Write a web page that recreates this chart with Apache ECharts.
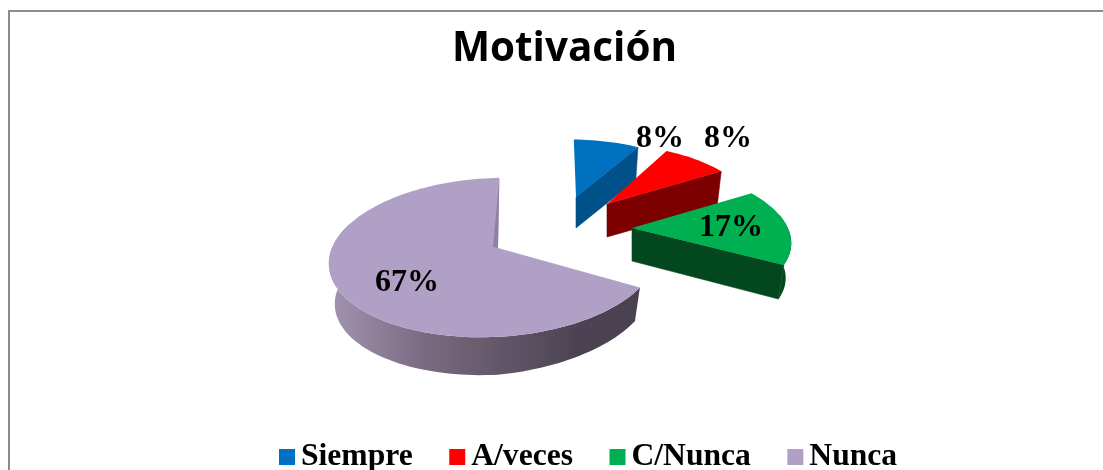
<!DOCTYPE html>
<html><head><meta charset="utf-8">
<script src="https://cdn.jsdelivr.net/npm/echarts@6/dist/echarts.min.js"></script>
<style>html,body{margin:0;background:#fff}#c{width:1103px;height:470px}</style></head>
<body><div id="c"></div>
<script>
var chartTitle = 'Motivación';
var categories = ['Siempre', 'A/veces', 'C/Nunca', 'Nunca'];
var values = [1, 1, 2, 8];
var percentLabels = ['8%', '8%', '17%', '67%'];

// styling and layout of the drawing
var topColors = ['#0070c0', '#ff0000', '#00b050', '#b0a0c6'];
var sideColors = ['#00508a', '#7c0000', '#03471f', null];
var apexes = [[576, 197], [607, 204], [632, 228], [498, 248]];
var rimShift = [0, 0, 0, -5];
var scaleX = [0.866, 0.89, 0.97, 1];
var scaleY = [0.82, 0.85, 0.92, 1];
var rotations = [-1, -3, -6, 2.5];
var tilts = [3, 2, 7, -6];
var depths = [31, 33, 33, 41];
var depthSkew = [0, 0, 2.5, -7];
var labelPos = [[660, 139], [728, 139], [731, 228], [407, 283]];
var RX = 163, RY = 78.4, PERSP = 0.1195, INSET = 0.965, FRONT_FROM = 80;

var total = values.reduce(function (a, b) { return a + b; }, 0);

function proj(i, deg) {
  var a = (deg + rotations[i]) * Math.PI / 180, X = Math.sin(a), Y = -Math.cos(a);
  var s = 1 / (1 - PERSP * Y);
  return [apexes[i][0] + rimShift[i] + RX * scaleX[i] * X * s,
          apexes[i][1] + (RY * Y + tilts[i] * X) * scaleY[i] * s];
}
function lower(i, p) {
  var ax = apexes[i][0], ay = apexes[i][1];
  var skew = depthSkew[i] * Math.max(0, (p[0] - ax) / RX);
  return [ax + (p[0] - ax) * INSET, ay + depths[i] + skew + (p[1] - ay) * INSET];
}
function arc(i, d0, d1) {
  var pts = [], n = Math.max(8, Math.round((d1 - d0) / 2));
  for (var k = 0; k <= n; k++) pts.push(proj(i, d0 + (d1 - d0) * k / n));
  return pts;
}
function makeRender(i) {
  return function (params, api) {
    var before = 0;
    for (var j = 0; j < i; j++) before += values[j];
    var d0 = before / total * 360, d1 = d0 + api.value(0) / total * 360;
    var rim = arc(i, d0, d1), apex = apexes[i], kids = [];
    var last = i === values.length - 1;
    var sideFill = last
      ? new echarts.graphic.LinearGradient(0, 0, 1, 0, [
          { offset: 0, color: '#a294b2' }, { offset: 0.3, color: '#7b6b82' },
          { offset: 0.55, color: '#625768' }, { offset: 0.8, color: '#4b4352' }, { offset: 1, color: '#4a4250' }])
      : sideColors[i];
    if (d1 > FRONT_FROM) {
      var frontEnd = last ? Math.min(d1, 290) : d1;
      var front = arc(i, Math.max(d0, FRONT_FROM), frontEnd);
      var outer = front.concat(front.map(function (p) { return lower(i, p); }).reverse());
      kids.push({ type: 'polygon', shape: { points: outer }, style: { fill: sideFill } });
    }
    if (!last) {
      var e = rim[rim.length - 1];
      kids.push({ type: 'polygon', shape: { points: [e, apex, lower(i, apex), lower(i, e)] },
        style: { fill: sideColors[i], stroke: sideColors[i], lineWidth: 0.6 } });
    }
    kids.push({ type: 'polygon', shape: { points: [apex].concat(rim) }, style: { fill: topColors[i] } });
    if (last) {
      var t = rim[rim.length - 1];
      kids.push({ type: 'polygon', shape: { points: [t, apex, [apex[0] - 5, apex[1] - 1]] }, style: { fill: '#8f7fa4' } });
    }
    kids.push({ type: 'text', style: { text: percentLabels[i], x: labelPos[i][0], y: labelPos[i][1],
      align: 'center', verticalAlign: 'middle', fill: '#000', font: 'bold 32px "Liberation Serif"' } });
    return { type: 'group', children: kids };
  };
}
var option = {
  animation: false,
  backgroundColor: '#fff',
  title: { text: chartTitle, left: 447, top: 24,
    textStyle: { fontFamily: '"Open Sans"', fontWeight: 'bold', fontSize: 40.4, color: '#000' } },
  legend: { left: 274, top: 436, icon: 'rect', itemWidth: 16, itemHeight: 16, itemGap: 36.5,
    data: categories, textStyle: { fontFamily: '"Liberation Serif"', fontWeight: 'bold', fontSize: 31.6, color: '#000', padding: [0, 0, 0, 1] } },
  graphic: [{ type: 'polyline', shape: { points: [[9, 470], [9, 11], [1103, 11]] },
    style: { fill: null, stroke: '#8c8c8c', lineWidth: 2 }, silent: true }],
  series: categories.map(function (name, i) {
    return { type: 'custom', name: name, coordinateSystem: 'none', renderItem: makeRender(i),
      itemStyle: { color: topColors[i] }, data: [[values[i]]], silent: true };
  })
};
echarts.init(document.getElementById('c')).setOption(option);
</script></body></html>
